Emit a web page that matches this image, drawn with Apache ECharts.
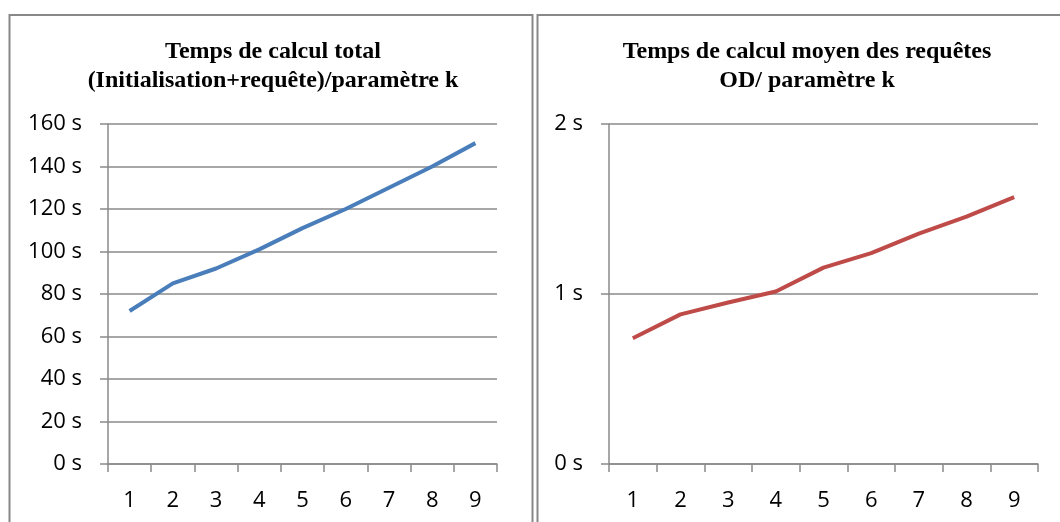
<!DOCTYPE html>
<html>
<head>
<meta charset="utf-8">
<script src="https://cdn.jsdelivr.net/npm/echarts@6/dist/echarts.min.js"></script>
<style>html,body{margin:0;padding:0;background:#fff}#c{width:1060px;height:522px}</style>
</head>
<body>
<div id="c"></div>
<script>
const categories = ['1','2','3','4','5','6','7','8','9'];
const totalTime = [72, 85, 92, 101, 111, 120, 130, 140, 151];
const meanTime = [0.74, 0.88, 0.95, 1.015, 1.155, 1.24, 1.355, 1.455, 1.57];
const leftTicks = {min: 0, max: 160, interval: 20};
const rightTicks = {min: 0, max: 2, interval: 1};
const titleLeft = 'Temps de calcul total\n(Initialisation+requête)/paramètre k';
const titleRight = 'Temps de calcul moyen des requêtes\nOD/ paramètre k';

const chart = echarts.init(document.getElementById('c'));
const gridGray = '#8a8a8a';
const labelFont = {fontFamily: 'Open Sans', fontSize: 22, color: '#000'};
function xAxis(gi){
  return {type:'category', gridIndex: gi, data: categories, boundaryGap: true,
    axisLine:{show:true, lineStyle:{color:gridGray, width:1.5}},
    axisTick:{show:true, length:8, interval:0, lineStyle:{color:gridGray, width:1.5}},
    axisLabel:Object.assign({margin:26, interval:0}, labelFont),
    splitLine:{show:false}};
}
function yAxis(gi, t){
  return {type:'value', gridIndex: gi, min:t.min, max:t.max, interval:t.interval,
    axisLine:{show:true, lineStyle:{color:gridGray, width:1.5}},
    axisTick:{show:true, length:8, lineStyle:{color:gridGray, width:1.5}},
    axisLabel:Object.assign({margin:26, formatter: v => v + ' s'}, labelFont),
    splitLine:{show:true, lineStyle:{color:gridGray, width:1.5}}};
}
const titleStyle = {fontFamily:'Liberation Serif', fontWeight:'bold', fontSize:24, lineHeight:29, color:'#000'};
chart.setOption({
  animation:false,
  backgroundColor:'#fff',
  graphic:[
    {type:'rect', shape:{x:9.5, y:15, width:523, height:520}, style:{fill:'none', stroke:'#888', lineWidth:2}},
    {type:'rect', shape:{x:537.5, y:15, width:540, height:520}, style:{fill:'none', stroke:'#888', lineWidth:2}}
  ],
  title:[
    {text:titleLeft, left:268, top:32, textAlign:'center', textStyle:titleStyle},
    {text:titleRight, left:802, top:32, textAlign:'center', textStyle:titleStyle}
  ],
  grid:[
    {left:108, right:563, top:124, bottom:58},
    {left:609, right:22, top:124, bottom:58}
  ],
  xAxis:[xAxis(0), xAxis(1)],
  yAxis:[yAxis(0, leftTicks), yAxis(1, rightTicks)],
  series:[
    {type:'line', xAxisIndex:0, yAxisIndex:0, data: totalTime, showSymbol:false,
     lineStyle:{color:'#4A7EBB', width:4}},
    {type:'line', xAxisIndex:1, yAxisIndex:1, data: meanTime, showSymbol:false,
     lineStyle:{color:'#BE4B48', width:4}}
  ]
});
</script>
</body>
</html>
